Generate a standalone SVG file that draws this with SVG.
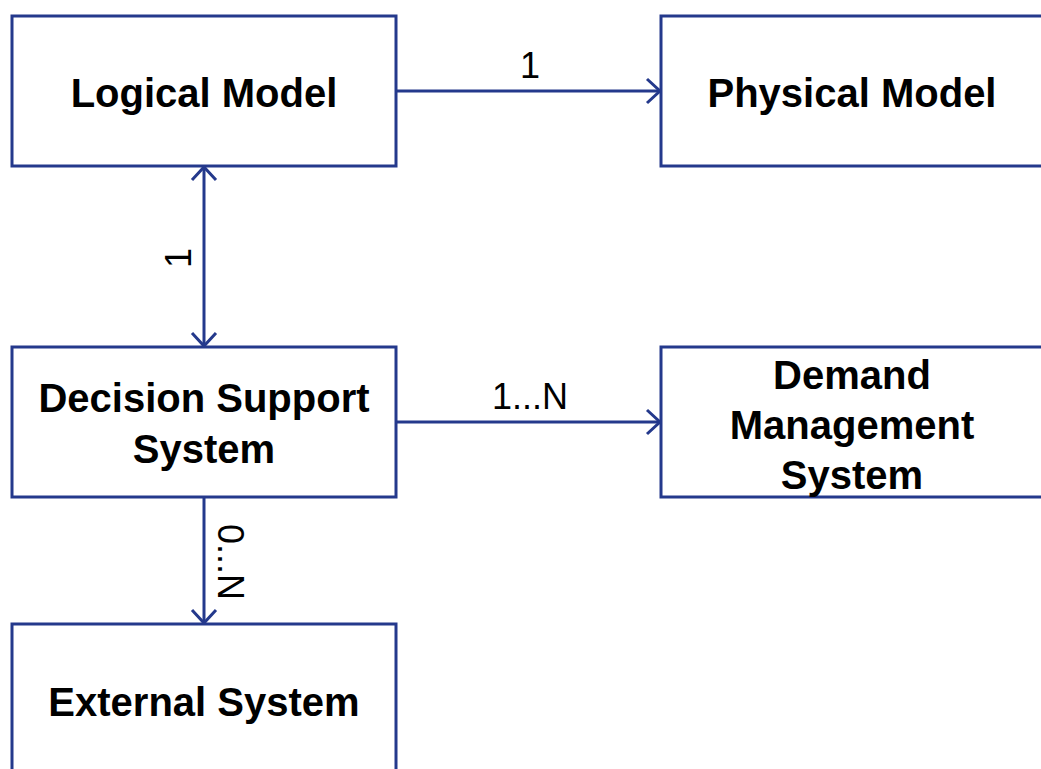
<svg xmlns="http://www.w3.org/2000/svg" width="1041" height="769" viewBox="0 0 1041 769">
<style>
.box{fill:#ffffff;stroke:#24398c;stroke-width:3}
.edge{fill:none;stroke:#24398c;stroke-width:3}
.lbl{font-family:"Liberation Sans",Arial,sans-serif;font-weight:bold;font-size:40px;fill:#000;text-anchor:middle}
.num{font-family:"Liberation Sans",Arial,sans-serif;font-size:36px;fill:#000;text-anchor:middle}
</style>
<defs>
<marker id="arr" markerUnits="userSpaceOnUse" markerWidth="30" markerHeight="30" viewBox="-16 -15 20 30" refX="0" refY="0" orient="auto-start-reverse">
<path d="M-13,-12 L0,0 L-13,12" fill="none" stroke="#24398c" stroke-width="3"/>
</marker>
</defs>
<rect width="1041" height="769" fill="#ffffff"/>
<g id="connectors">
<line class="edge" x1="396" y1="91" x2="660" y2="91" marker-end="url(#arr)"/>
<line class="edge" x1="204" y1="167" x2="204" y2="346" marker-start="url(#arr)" marker-end="url(#arr)"/>
<line class="edge" x1="396" y1="422" x2="660" y2="422" marker-end="url(#arr)"/>
<line class="edge" x1="204" y1="497" x2="204" y2="623" marker-end="url(#arr)"/>
<text class="num" x="530" y="78">1</text>
<text class="num" x="530" y="409">1...N</text>
<text class="num" transform="translate(191,258) rotate(-90)" x="0" y="0">1</text>
<text class="num" transform="translate(218,562) rotate(90)" x="0" y="0">0...N</text>
</g>
<g id="logical-model">
<rect class="box" x="12" y="16" width="384" height="150"/>
<text class="lbl" x="204" y="107">Logical Model</text>
</g>
<g id="physical-model">
<rect class="box" x="661" y="16" width="384" height="150"/>
<text class="lbl" x="852" y="107">Physical Model</text>
</g>
<g id="decision-support-system">
<rect class="box" x="12" y="347" width="384" height="150"/>
<text class="lbl" x="204" y="412">Decision Support</text>
<text class="lbl" x="204" y="463">System</text>
</g>
<g id="demand-management-system">
<rect class="box" x="661" y="347" width="384" height="150"/>
<text class="lbl" x="852" y="389">Demand</text>
<text class="lbl" x="852" y="439">Management</text>
<text class="lbl" x="852" y="489">System</text>
</g>
<g id="external-system">
<rect class="box" x="12" y="624" width="384" height="150"/>
<text class="lbl" x="204" y="716">External System</text>
</g>
</svg>
